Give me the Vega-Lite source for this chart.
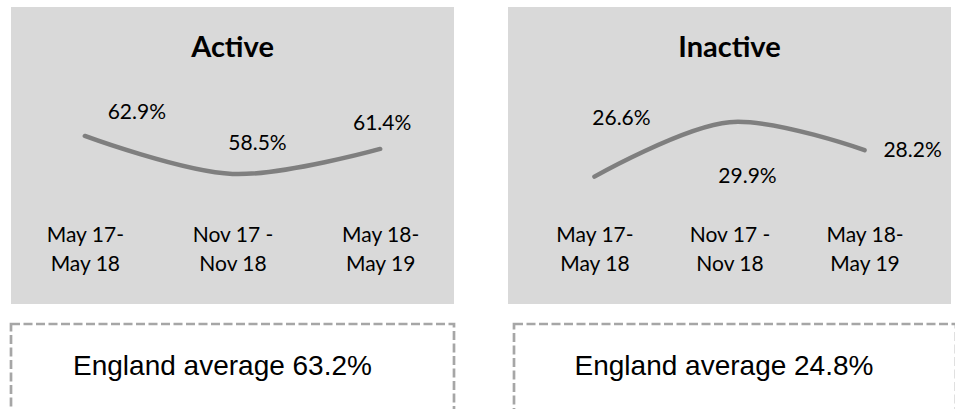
{
  "$schema": "https://vega.github.io/schema/vega-lite/v6.json",
  "padding": {"left": 9, "top": 7, "right": 0, "bottom": 0},
  "background": "#ffffff",
  "datasets": {
    "active": [
      {"period": "May 17-\nMay 18", "value": 0.629},
      {"period": "Nov 17 -\nNov 18", "value": 0.585},
      {"period": "May 18-\nMay 19", "value": 0.614}
    ],
    "inactive": [
      {"period": "May 17-\nMay 18", "value": 0.266},
      {"period": "Nov 17 -\nNov 18", "value": 0.299},
      {"period": "May 18-\nMay 19", "value": 0.282}
    ],
    "avgActive": [{"label": "England average 63.2%"}],
    "avgInactive": [{"label": "England average 24.8%"}]
  },
  "config": {
    "font": "Lato",
    "axis": {"labelFont": "Lato", "labelFontSize": 21, "labelColor": "#000000", "grid": false, "ticks": false, "domain": false, "title": null},
    "text": {"font": "Lato", "fontSize": 21, "color": "#000000"}
  },
  "vconcat": [
    {
      "hconcat": [
        {
          "width": 443,
          "height": 297,
          "view": {"fill": "#d9d9d9", "stroke": null},
          "title": {"text": "Active", "offset": -70, "baseline": "middle", "fontSize": 29, "font": "Lato", "fontWeight": "bold", "anchor": "middle", "color": "#000000"},
          "data": {"name": "active"},
          "encoding": {
            "x": {"field": "period", "type": "nominal", "sort": null, "scale": {"type": "point", "padding": 0.5},
                  "axis": {"labelAngle": 0, "offset": -80, "labelPadding": 0, "labelBaseline": "top", "labelLineHeight": 29, "labelExpr": "split(datum.label, '\\n')"}},
            "y": {"field": "value", "type": "quantitative", "scale": {"domain": [0.4347, 0.7781], "zero": false, "nice": false}, "axis": null}
          },
          "layer": [
            {"mark": {"type": "line", "color": "#7f7f7f", "strokeWidth": 4.5, "strokeCap": "round", "interpolate": "catmull-rom"}},
            {"transform": [{"filter": "datum.value == 0.629"}], "mark": {"type": "text", "dx": 52, "dy": -23, "baseline": "middle"}, "encoding": {"text": {"field": "value", "type": "quantitative", "format": ".1%"}}},
            {"transform": [{"filter": "datum.value == 0.585"}], "mark": {"type": "text", "dx": 25, "dy": -30, "baseline": "middle"}, "encoding": {"text": {"field": "value", "type": "quantitative", "format": ".1%"}}},
            {"transform": [{"filter": "datum.value == 0.614"}], "mark": {"type": "text", "dx": 2, "dy": -25, "baseline": "middle"}, "encoding": {"text": {"field": "value", "type": "quantitative", "format": ".1%"}}}
          ]
        },
        {
          "width": 443,
          "height": 297,
          "view": {"fill": "#d9d9d9", "stroke": null},
          "title": {"text": "Inactive", "offset": -70, "baseline": "middle", "fontSize": 29, "font": "Lato", "fontWeight": "bold", "anchor": "middle", "color": "#000000"},
          "data": {"name": "inactive"},
          "encoding": {
            "x": {"field": "period", "type": "nominal", "sort": null, "scale": {"type": "point", "padding": 0.64},
                  "axis": {"labelAngle": 0, "offset": -80, "labelPadding": 0, "labelBaseline": "top", "labelLineHeight": 29, "labelExpr": "split(datum.label, '\\n')"}},
            "y": {"field": "value", "type": "quantitative", "scale": {"domain": [0.1888, 0.3688], "zero": false, "nice": false}, "axis": null}
          },
          "layer": [
            {"mark": {"type": "line", "color": "#7f7f7f", "strokeWidth": 4.5, "strokeCap": "round", "interpolate": "catmull-rom"}},
            {"transform": [{"filter": "datum.value == 0.266"}], "mark": {"type": "text", "dx": 27, "dy": -58, "baseline": "middle"}, "encoding": {"text": {"field": "value", "type": "quantitative", "format": ".1%"}}},
            {"transform": [{"filter": "datum.value == 0.299"}], "mark": {"type": "text", "dx": 18, "dy": 55, "baseline": "middle"}, "encoding": {"text": {"field": "value", "type": "quantitative", "format": ".1%"}}},
            {"transform": [{"filter": "datum.value == 0.282"}], "mark": {"type": "text", "dx": 48, "dy": 1, "baseline": "middle"}, "encoding": {"text": {"field": "value", "type": "quantitative", "format": ".1%"}}}
          ]
        }
      ],
      "spacing": 54
    },
    {
      "hconcat": [
        {
          "width": 443,
          "height": 92,
          "view": {"fill": "#ffffff", "stroke": "#a6a6a6", "strokeWidth": 2.7, "strokeDash": [9, 3.5]},
          "data": {"name": "avgActive"},
          "mark": {"type": "text", "font": "Liberation Sans", "fontSize": 28, "dx": -10, "dy": -3, "baseline": "middle"},
          "encoding": {"text": {"field": "label", "type": "nominal"}}
        },
        {
          "width": 442,
          "height": 92,
          "view": {"fill": "#ffffff", "stroke": "#a6a6a6", "strokeWidth": 2.7, "strokeDash": [9, 3.5]},
          "data": {"name": "avgInactive"},
          "mark": {"type": "text", "font": "Liberation Sans", "fontSize": 28, "dx": -11, "dy": -3, "baseline": "middle"},
          "encoding": {"text": {"field": "label", "type": "nominal"}}
        }
      ],
      "spacing": 56
    }
  ],
  "spacing": 18
}
